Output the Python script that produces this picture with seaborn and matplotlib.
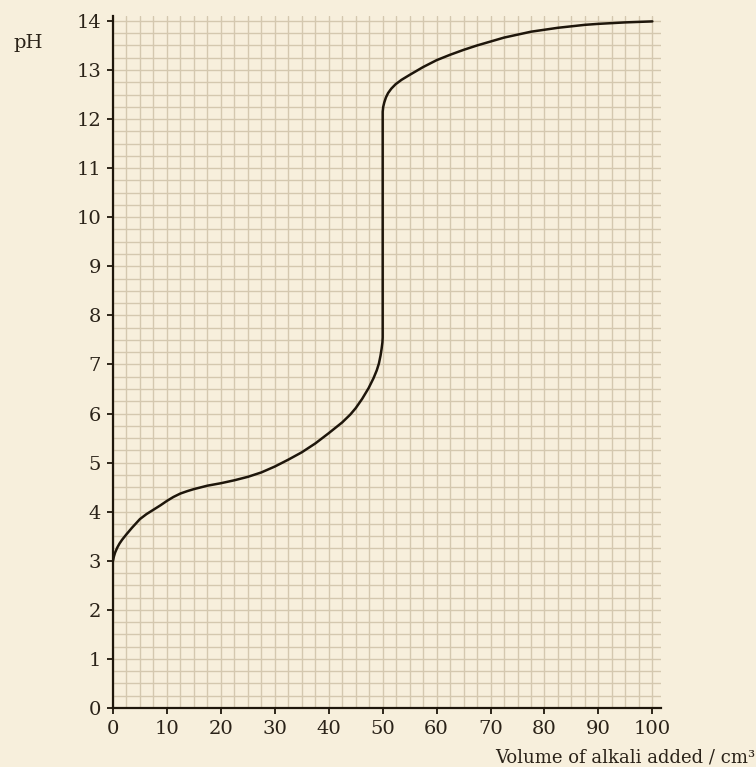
import matplotlib
matplotlib.use("Agg")
import matplotlib.pyplot as plt
import seaborn as sns
import pandas as pd
import numpy as np

# Titration curve
volume = [0, 0.15, 0.4, 0.8, 1.2, 1.7, 2.5, 3.5, 5, 6.2, 7.5, 8.8, 10, 11.2, 12.5, 13.8,
          15, 17.5, 20, 22.5, 25, 27.5, 30, 32.5, 35, 37.5, 40, 42.5, 44, 45, 46.2,
          47.4, 48.3, 48.9, 49.3, 49.6, 49.8, 49.95, 50, 50,
          50.1, 50.3, 50.6, 51.0, 51.6, 52.4, 53.5, 55, 57.5, 60, 62.5, 65, 67.5,
          70, 72.5, 75, 77.5, 80, 82.5, 85, 87.5, 90, 95, 100]
ph = [3.0, 3.08, 3.17, 3.27, 3.35, 3.43, 3.54, 3.67, 3.85, 3.95, 4.04, 4.13, 4.22, 4.30, 4.37, 4.42,
      4.46, 4.53, 4.58, 4.64, 4.71, 4.80, 4.92, 5.06, 5.21, 5.39, 5.60, 5.82, 5.98, 6.11, 6.30,
      6.52, 6.72, 6.88, 7.02, 7.18, 7.32, 7.45, 7.55, 12.15,
      12.25, 12.34, 12.44, 12.53, 12.62, 12.71, 12.80, 12.90, 13.06, 13.20, 13.31, 13.41, 13.50,
      13.58, 13.66, 13.72, 13.78, 13.82, 13.86, 13.89, 13.92, 13.94, 13.97, 13.99]

x_ticks = list(range(0, 101, 10))
y_ticks = list(range(0, 15))
x_label = "Volume of alkali added / cm³"
y_label = "pH"

df = pd.DataFrame({"volume": volume, "ph": ph})

bg = "#f7efdc"
ink = "#1e160b"
gridc = "#d4c8af"

sns.set_theme(style="ticks")
plt.rcParams["font.family"] = ["DejaVu Serif"]

fig = plt.figure(figsize=(7.56, 7.67), dpi=100, facecolor=bg)
ax = fig.add_axes([113/756, 1-708/767, (661-113)/756, (708-16)/767])
ax.set_facecolor(bg)

sns.lineplot(data=df, x="volume", y="ph", sort=False, estimator=None,
             color=ink, linewidth=1.8, ax=ax, zorder=3,
             solid_joinstyle="round", solid_capstyle="round")

ax.set_xlim(0, 101.6)
ax.set_ylim(0, 14.1)
ax.set_xticks(x_ticks)
ax.set_yticks(y_ticks)
ax.set_xticks(np.arange(0, 100.1, 2.5), minor=True)
ax.set_yticks(np.arange(0, 14.01, 0.25), minor=True)
ax.grid(which="both", color=gridc, linewidth=1.0, zorder=0)
ax.set_axisbelow(True)

for s in ["top", "right"]:
    ax.spines[s].set_visible(False)
for s in ["left", "bottom"]:
    ax.spines[s].set_color(ink)
    ax.spines[s].set_linewidth(1.6)
    ax.spines[s].set_zorder(4)

ax.tick_params(which="major", direction="out", length=4.5, width=1.3, color=ink,
               labelsize=14, labelcolor="#2a2218", pad=4)
ax.tick_params(which="minor", length=0)
ax.set_xlabel("")
ax.set_ylabel("")

fig.text(13/756, 1-48/767, y_label, fontsize=14, color="#2a2218", ha="left", va="baseline")
fig.text(755/756, 4/767, x_label, fontsize=13, color="#2a2218", ha="right", va="baseline")

fig.savefig("out.png", dpi=100, facecolor=bg)
